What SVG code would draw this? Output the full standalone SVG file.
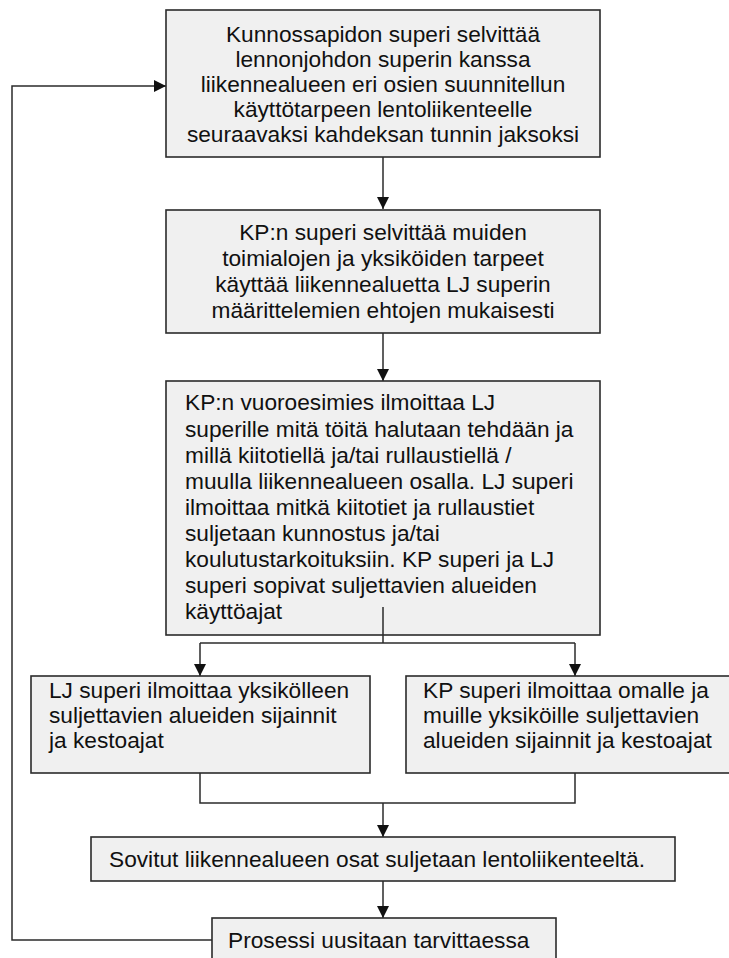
<svg xmlns="http://www.w3.org/2000/svg" width="729" height="958" viewBox="0 0 729 958">
<style>
.box{fill:#f0f0f0;stroke:#2b2b2b;stroke-width:1.6}
.t{font-family:"Liberation Sans",Arial,sans-serif;font-size:22.7px;fill:#111}
.c{text-anchor:middle}
.ln{fill:none;stroke:#2b2b2b;stroke-width:1.5}
</style>
<defs>
<marker id="ah" markerWidth="12" markerHeight="12" refX="12" refY="6" orient="auto" markerUnits="userSpaceOnUse">
<path d="M0,0 L12,6 L0,12 Z" fill="#111"/>
</marker>
</defs>
<rect width="729" height="958" fill="#fff"/>
<g id="connectors">
<path class="ln" d="M383,157 V209" marker-end="url(#ah)"/>
<path class="ln" d="M383,333 V381" marker-end="url(#ah)"/>
<path class="ln" d="M383,607 V643"/>
<path class="ln" d="M200,643 H575"/>
<path class="ln" d="M200,643 V676" marker-end="url(#ah)"/>
<path class="ln" d="M575,643 V676" marker-end="url(#ah)"/>
<path class="ln" d="M200,773 V803 H575 V773"/>
<path class="ln" d="M383,803 V837" marker-end="url(#ah)"/>
<path class="ln" d="M383,881 V918" marker-end="url(#ah)"/>
<path class="ln" d="M212,940 H12 V86 H166" marker-end="url(#ah)"/>
</g>
<g id="n1">
<rect class="box" x="166" y="10" width="434" height="147"/>
<text class="t c" x="383"><tspan x="383" y="41.5">Kunnossapidon superi selvittää</tspan><tspan x="383" y="66.5">lennonjohdon superin kanssa</tspan><tspan x="383" y="91.5">liikennealueen eri osien suunnitellun</tspan><tspan x="383" y="116.5">käyttötarpeen lentoliikenteelle</tspan><tspan x="383" y="141.5">seuraavaksi kahdeksan tunnin jaksoksi</tspan></text>
</g>
<g id="n2">
<rect class="box" x="166" y="210" width="434" height="123"/>
<text class="t c" x="383"><tspan x="383" y="240">KP:n superi selvittää muiden</tspan><tspan x="383" y="266">toimialojen ja yksiköiden tarpeet</tspan><tspan x="383" y="292">käyttää liikennealuetta LJ superin</tspan><tspan x="383" y="318">määrittelemien ehtojen mukaisesti</tspan></text>
</g>
<g id="n3">
<rect class="box" x="166" y="381" width="434" height="254"/>
<text class="t" x="185"><tspan x="185" y="410">KP:n vuoroesimies ilmoittaa LJ</tspan><tspan x="185" y="436.5">superille mitä töitä halutaan tehdään ja</tspan><tspan x="185" y="463">millä kiitotiellä ja/tai rullaustiellä /</tspan><tspan x="185" y="489">muulla liikennealueen osalla. LJ superi</tspan><tspan x="185" y="515">ilmoittaa mitkä kiitotiet ja rullaustiet</tspan><tspan x="185" y="541">suljetaan kunnostus ja/tai</tspan><tspan x="185" y="567">koulutustarkoituksiin. KP superi ja LJ</tspan><tspan x="185" y="593">superi sopivat suljettavien alueiden</tspan><tspan x="185" y="619">käyttöajat</tspan></text>
<path class="ln" d="M383,607 V635"/>
</g>
<g id="n4">
<rect class="box" x="31" y="676" width="339" height="97"/>
<text class="t" x="49"><tspan x="49" y="698">LJ superi ilmoittaa yksikölleen</tspan><tspan x="49" y="723">suljettavien alueiden sijainnit</tspan><tspan x="49" y="748">ja kestoajat</tspan></text>
</g>
<g id="n5">
<rect class="box" x="406" y="676" width="332" height="97"/>
<text class="t" x="423"><tspan x="423" y="698">KP superi ilmoittaa omalle ja</tspan><tspan x="423" y="723">muille yksiköille suljettavien</tspan><tspan x="423" y="748">alueiden sijainnit ja kestoajat</tspan></text>
</g>
<g id="n6">
<rect class="box" x="91" y="837" width="584" height="44"/>
<text class="t" x="109" y="867">Sovitut liikennealueen osat suljetaan lentoliikenteeltä.</text>
</g>
<g id="n7">
<rect class="box" x="212" y="918" width="344" height="45"/>
<text class="t" x="228" y="948">Prosessi uusitaan tarvittaessa</text>
</g>
</svg>
